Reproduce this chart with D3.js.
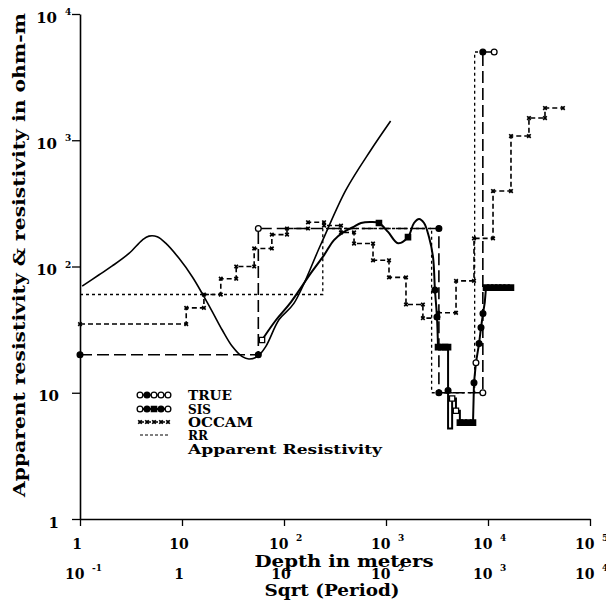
<!DOCTYPE html>
<html><head><meta charset="utf-8">
<script src="https://cdn.jsdelivr.net/npm/d3@7"></script>
<style>
html,body{margin:0;padding:0;background:#fff;}
svg text{font-family:"DejaVu Serif",serif;font-weight:bold;fill:#000;}
</style></head><body>
<svg id="chart" width="606" height="609"></svg>
<script>
// ---------- data ----------
const xDecades = [1, 10, 100, 1000, 10000, 100000];
const xLabelsTop = ["1", "10", "10", "10", "10", "10"];
const xExpTop = ["", "", "2", "3", "4", "5"];
const xLabelsBottom = ["10", "1", "10", "10", "10", "10"];
const xExpBottom = ["-1", "", "", "2", "3", "4"];
const yDecades = [1, 10, 100, 1000, 10000];
const yLabels = ["1", "10", "10", "10", "10"];
const yExp = ["", "", "2", "3", "4"];

const trueBounds = [1, 56, 3300, 8900, 11500];
const trueRes = [20, 200, 10, 5000];
const rrBounds = [1, 240, 2800, 7400, 8900];
const rrRes = [60, 200, 10, 5000];
const occamBounds = [1, 11, 16.4, 24, 34, 51, 76, 107, 172, 247, 362, 486, 746, 1070, 1570, 2300, 3240, 4860, 7290, 11200, 16800, 25200, 36200, 54300];
const occamRes = [35, 47, 60, 80, 100, 139, 179, 200, 224, 211, 186, 152, 112, 82, 50, 39, 43, 77, 167, 396, 1080, 1500, 1800];

const appDepth = [1.05, 1.54, 2.07, 3.02, 4.08, 4.74, 5.72, 6.92, 9.35, 12.6, 15.8, 19.8, 24.8, 31.2, 39, 45.3, 54.7, 66.2, 89.5, 125, 230, 405, 711, 1110];
const appRes = [70, 86, 101, 127, 162, 174, 172, 153, 116, 83, 61, 44, 31.4, 23.2, 19.3, 18.5, 19.3, 23.2, 38, 51, 150, 404, 837, 1420];

const sisDepth = [60.9, 83.5, 117, 184, 247, 309, 387, 475, 569, 713, 853, 1047, 1312, 1643, 1882, 2110, 2360, 2640, 2890, 3020, 3160, 3235];
const sisRes = [26.2, 37.7, 52.3, 88.9, 123, 162, 188, 205, 221, 225, 221, 188, 153, 171, 221, 238, 221, 171, 119, 65, 39.8, 23];
const sisStepDepth = [3235, 4060, 4060, 4450, 4450, 4850, 4850, 5300, 5300, 7130, 7290, 7620, 8170, 8540, 8930, 9300, 9560, 16800];
const sisStepRes = [23, 23, 5.2, 5.2, 9, 9, 7.2, 7.2, 5.8, 5.8, 12, 17.3, 24.5, 32.8, 42.4, 52, 68, 68];
const sisMarkDepth = [60.9, 853, 1643, 3020, 3160, 3235, 3500, 3800, 4060, 4060, 4450, 4850, 5300, 5800, 6400, 7130, 7290, 7620, 8170, 8540, 8930, 9560, 10500, 11500, 12600, 13800, 15200, 16800];
const sisMarkRes = [26.2, 221, 171, 65, 39.8, 23, 23, 23, 23, 10.4, 9, 7.2, 5.8, 5.8, 5.8, 5.8, 12, 17.3, 24.5, 32.8, 42.4, 68, 68, 68, 68, 68, 68, 68];
const sisMarkKind = ["os","fs","fs","fc","fc","fs","fs","fs","fs","fc","os","os","fs","fs","fs","fs","fc","oc","fc","fc","fc","fs","fs","fs","fs","fs","fs","fs"];

const trueMarkDepth = [1, 56, 56, 3300, 3300, 8900, 8900, 11500];
const trueMarkRes = [20, 20, 200, 200, 10, 10, 5000, 5000];
const trueMarkKind = ["fc","fc","oc","fc","fc","oc","fc","oc"];

const legendNames = ["TRUE", "SIS", "OCCAM", "RR", "Apparent Resistivity"];

// ---------- setup ----------
const svg = d3.select("#chart");
const x = d3.scaleLog().domain([1, 1e5]).range([80, 590]);
const y = d3.scaleLog().domain([1, 1e4]).range([519, 14]);

function stepPoints(bounds, vals) {
  const pts = [];
  vals.forEach((v, i) => { pts.push([bounds[i], v]); pts.push([bounds[i + 1], v]); });
  return pts;
}
const line = d3.line().x(d => x(d[0])).y(d => y(d[1]));
const smooth = d3.line().x(d => x(d[0])).y(d => y(d[1])).curve(d3.curveCatmullRom.alpha(0.5));

// ---------- axes ----------
const minor = [];
xDecades.slice(0, -1).forEach(dc => { for (let k = 2; k <= 9; k++) minor.push(k * dc); });
const yMinor = minor.filter(v => v < 1e4);

const gx = svg.append("g").attr("transform", "translate(0,519)");
gx.call(d3.axisBottom(x).tickValues(minor).tickSize(4).tickFormat("").tickSizeOuter(0));
gx.call(d3.axisBottom(x).tickValues(xDecades).tickSize(7).tickFormat("").tickSizeOuter(0));
const gy = svg.append("g").attr("transform", "translate(80,0)");
gy.call(d3.axisLeft(y).tickValues(yMinor).tickSize(4).tickFormat("").tickSizeOuter(0));
gy.call(d3.axisLeft(y).tickValues(yDecades).tickSize(8).tickFormat("").tickSizeOuter(0));
svg.selectAll(".domain").attr("stroke", "#000").attr("stroke-width", 1.6);
svg.selectAll(".tick line").attr("stroke", "#000").attr("stroke-width", 1.3);

// tick labels
function xLabel(labels, exps, base) {
  labels.forEach((lab, i) => {
    const tx = x(xDecades[i]);
    if (exps[i]) {
      svg.append("text").attr("x", tx - 15).attr("y", base).attr("font-size", 14).text(lab);
      svg.append("text").attr("x", tx + 12).attr("y", base - 8).attr("font-size", 9).text(exps[i]);
    } else {
      svg.append("text").attr("x", tx - 3).attr("y", base).attr("font-size", 14).attr("text-anchor", "middle").text(lab);
    }
  });
}
xLabel(xLabelsTop, xExpTop, 549);
xLabel(xLabelsBottom, xExpBottom, 579);

yLabels.forEach((lab, i) => {
  const ty = y(yDecades[i]);
  if (yExp[i]) {
    svg.append("text").attr("x", 57).attr("y", ty + 8.5).attr("font-size", 15).attr("text-anchor", "end").text(lab);
    svg.append("text").attr("x", 65).attr("y", ty + 1).attr("font-size", 9).text(yExp[i]);
  } else {
    svg.append("text").attr("x", 59).attr("y", ty + 8.5).attr("font-size", 15).attr("text-anchor", "end").text(lab);
  }
});

// axis titles
svg.append("text").attr("x", 344).attr("y", 567).attr("font-size", 16).attr("text-anchor", "middle")
  .attr("textLength", 179).attr("lengthAdjust", "spacingAndGlyphs").text("Depth in meters");
svg.append("text").attr("x", 332).attr("y", 596).attr("font-size", 16).attr("text-anchor", "middle")
  .attr("textLength", 135).attr("lengthAdjust", "spacingAndGlyphs").text("Sqrt (Period)");
svg.append("text").attr("transform", "translate(25,255) rotate(-90)").attr("font-size", 16).attr("text-anchor", "middle")
  .attr("textLength", 484).attr("lengthAdjust", "spacingAndGlyphs").text("Apparent resistivity & resistivity in ohm-m");

// ---------- series ----------
const plot = svg.append("g");
plot.append("path").attr("d", line(stepPoints(rrBounds, rrRes)))
  .attr("fill", "none").attr("stroke", "#000").attr("stroke-width", 1.3).attr("stroke-dasharray", "3,3");
plot.append("path").attr("d", line(stepPoints(occamBounds, occamRes)))
  .attr("fill", "none").attr("stroke", "#000").attr("stroke-width", 1.6).attr("stroke-dasharray", "5,3");
plot.append("path").attr("d", line(stepPoints(trueBounds, trueRes)))
  .attr("fill", "none").attr("stroke", "#000").attr("stroke-width", 1.6).attr("stroke-dasharray", "12,5");
plot.append("path").attr("d", smooth(appDepth.map((d, i) => [d, appRes[i]])))
  .attr("fill", "none").attr("stroke", "#000").attr("stroke-width", 1.6);
plot.append("path").attr("d", smooth(sisDepth.map((d, i) => [d, sisRes[i]])))
  .attr("fill", "none").attr("stroke", "#000").attr("stroke-width", 2);
plot.append("path").attr("d", line(sisStepDepth.map((d, i) => [d, sisStepRes[i]])))
  .attr("fill", "none").attr("stroke", "#000").attr("stroke-width", 2);

function marker(g, px, py, kind) {
  const isSq = kind[1] === "s";
  const filled = kind[0] === "f";
  g.append("path").attr("transform", `translate(${px},${py})`)
    .attr("d", d3.symbol().type(isSq ? d3.symbolSquare : d3.symbolCircle).size(isSq ? 28 : 26)())
    .attr("fill", filled ? "#000" : "#fff").attr("stroke", "#000").attr("stroke-width", 1.3);
}
function xMark(g, px, py) {
  g.append("path").attr("transform", `translate(${px},${py}) rotate(45)`)
    .attr("d", d3.symbol().type(d3.symbolCross).size(14)())
    .attr("fill", "#000");
}
occamRes.forEach((r, i) => {
  xMark(plot, x(occamBounds[i]), y(r));
  xMark(plot, x(occamBounds[i + 1]), y(r));
});
trueMarkDepth.forEach((d, i) => marker(plot, x(d), y(trueMarkRes[i]), trueMarkKind[i]));
sisMarkDepth.forEach((d, i) => marker(plot, x(d), y(sisMarkRes[i]), sisMarkKind[i]));

// ---------- legend ----------
const leg = svg.append("g");
const rowY = [395, 409, 422, 435, 449];
const sx0 = 140, sx1 = 168;
leg.append("line").attr("x1", sx0).attr("x2", sx1).attr("y1", rowY[0]).attr("y2", rowY[0])
  .attr("stroke", "#000").attr("stroke-width", 1.4).attr("stroke-dasharray", "5,2");
["oc","fc","oc","oc","oc"].forEach((k, i) => marker(leg, sx0 + i * 7, rowY[0], k));
leg.append("line").attr("x1", sx0).attr("x2", sx1).attr("y1", rowY[1]).attr("y2", rowY[1])
  .attr("stroke", "#000").attr("stroke-width", 2);
["oc","fc","fs","fc","oc"].forEach((k, i) => marker(leg, sx0 + i * 7, rowY[1], k));
leg.append("line").attr("x1", sx0).attr("x2", sx1).attr("y1", rowY[2]).attr("y2", rowY[2])
  .attr("stroke", "#000").attr("stroke-width", 1.6).attr("stroke-dasharray", "4,3");
[0, 1, 2, 3, 4].forEach(i => xMark(leg, sx0 + i * 7, rowY[2]));
leg.append("line").attr("x1", sx0).attr("x2", sx1).attr("y1", rowY[3]).attr("y2", rowY[3])
  .attr("stroke", "#000").attr("stroke-width", 1.2).attr("stroke-dasharray", "3,2");
const legWidths = [44, 23, 65, 20, 194];
legendNames.forEach((n, i) => {
  leg.append("text").attr("x", 188).attr("y", rowY[i] + 5).attr("font-size", 13.5)
    .attr("textLength", legWidths[i]).attr("lengthAdjust", "spacingAndGlyphs").text(n);
});
</script>
</body></html>
